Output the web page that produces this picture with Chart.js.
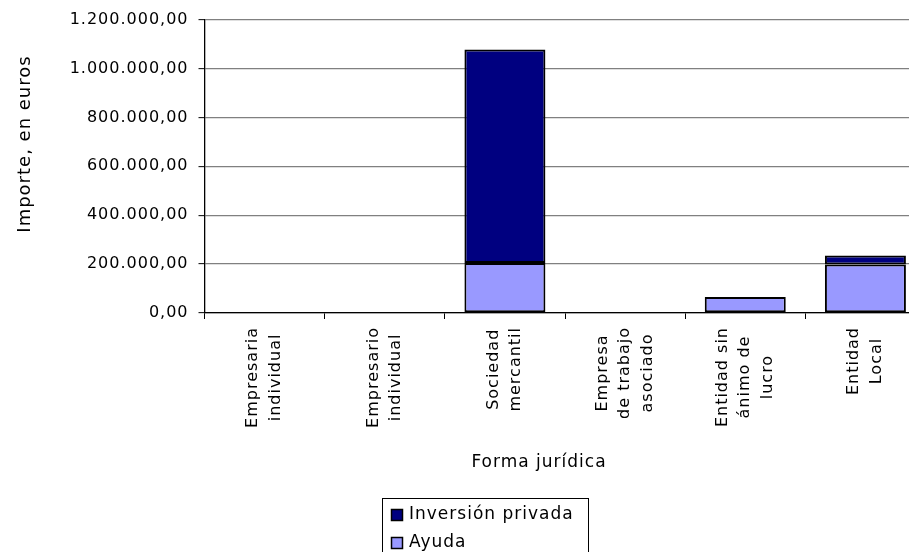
<!DOCTYPE html>
<html>
<head>
<meta charset="utf-8">
<script src="https://cdn.jsdelivr.net/npm/chart.js@4.4.1/dist/chart.umd.min.js"></script>
<style>
  html, body { margin: 0; padding: 0; background: #fff; overflow: hidden; }
  #wrap { width: 940px; height: 552px; }
  canvas { display: block; }
</style>
</head>
<body>
<div id="wrap"><canvas id="grafico" width="940" height="552"></canvas></div>
<script>
// --- Datos ---
const categorias = [
  ["Empresaria", "individual"],
  ["Empresario", "individual"],
  ["Sociedad", "mercantil"],
  ["Empresa", "de trabajo", "asociado"],
  ["Entidad sin", "ánimo de", "lucro"],
  ["Entidad", "Local"]
];
const ayuda = [0, 0, 205000, 0, 65000, 198000];
const inversionPrivada = [0, 0, 873000, 0, 0, 37000];

const yMin = 0;
const yMax = 1200000;
const yPaso = 200000;

const tituloX = "Forma jurídica";
const tituloY = "Importe, en euros";

const FUENTE = '"DejaVu Sans", Verdana, sans-serif';

// 1200000 -> "1.200.000,00"
function formatoEs(v) {
  const [ent, dec] = Number(v).toFixed(2).split(".");
  return ent.replace(/\B(?=(\d{3})+(?!\d))/g, ".") + "," + dec;
}

// --- Textos dibujados aparte (etiquetas centradas, títulos, leyenda) ---
const textos = {
  id: "textos",
  beforeUpdate(chart) { chart.ctx.letterSpacing = "1px"; },
  beforeDraw(chart) { chart.ctx.letterSpacing = "1px"; },
  afterDraw(chart) {
    const ctx = chart.ctx;
    const x = chart.scales.x;
    ctx.save();
    ctx.fillStyle = "#000";
    ctx.textAlign = "center";
    ctx.textBaseline = "middle";

    // categorías giradas, líneas centradas entre sí
    ctx.font = "16px " + FUENTE;
    chart.data.labels.forEach((lineas, i) => {
      const cx = x.getPixelForValue(i);
      const maxW = Math.max(...lineas.map(l => ctx.measureText(l).width));
      lineas.forEach((l, j) => {
        ctx.save();
        ctx.translate(cx + (j - (lineas.length - 1) / 2) * 22.5, x.top + 14 + maxW / 2);
        ctx.rotate(-Math.PI / 2);
        ctx.fillText(l, 0, 0);
        ctx.restore();
      });
    });

    // títulos de ejes
    ctx.font = "17px " + FUENTE;
    ctx.fillText(tituloX, 539, 463);
    ctx.save();
    ctx.font = "18px " + FUENTE;
    ctx.translate(25, 144);
    ctx.rotate(-Math.PI / 2);
    ctx.fillText(tituloY, 0, 0);
    ctx.restore();

    // leyenda (orden inverso, como en Excel)
    ctx.strokeStyle = "#000";
    ctx.lineWidth = 1;
    ctx.strokeRect(382.5, 498.5, 206, 70);
    ctx.font = "17px " + FUENTE;
    ctx.textAlign = "left";
    const ds = chart.data.datasets.slice().reverse();
    ds.forEach((d, k) => {
      const yc = 515 + k * 28;
      ctx.fillStyle = d.backgroundColor;
      ctx.fillRect(391, yc - 6, 12, 12);
      ctx.lineWidth = 1.5;
      ctx.strokeRect(391.5, yc - 5.5, 11, 11);
      ctx.fillStyle = "#000";
      ctx.fillText(d.label, 409, yc);
    });
    ctx.restore();
  }
};

// --- Chart.js ---
const ctx = document.getElementById("grafico").getContext("2d");

new Chart(ctx, {
  type: "bar",
  data: {
    labels: categorias,
    datasets: [
      {
        label: "Ayuda",
        data: ayuda,
        backgroundColor: "#9999FF",
        borderColor: "#000",
        borderWidth: 2,
        borderSkipped: false,
        barPercentage: 0.674,
        categoryPercentage: 1
      },
      {
        label: "Inversión privada",
        data: inversionPrivada,
        backgroundColor: "#000080",
        borderColor: "#000",
        borderWidth: 2,
        borderSkipped: false,
        barPercentage: 0.674,
        categoryPercentage: 1
      }
    ]
  },
  options: {
    responsive: false,
    animation: false,
    layout: { padding: { left: 0, right: 14.5, top: 19, bottom: 0 } },
    plugins: {
      legend: { display: false },
      tooltip: { enabled: false }
    },
    scales: {
      x: {
        stacked: true,
        ticks: { display: false },
        grid: {
          drawOnChartArea: false,
          drawTicks: true,
          tickLength: 6,
          tickColor: "#000",
          tickWidth: 1
        },
        border: { color: "#000", width: 1.3 },
        afterFit: s => { s.height = 239; }
      },
      y: {
        stacked: true,
        min: yMin,
        max: yMax,
        ticks: {
          stepSize: yPaso,
          padding: 10,
          color: "#000",
          font: { family: FUENTE, size: 16 },
          callback: v => formatoEs(v)
        },
        grid: {
          color: "#808080",
          lineWidth: 1.3,
          tickLength: 6,
          tickColor: "#000",
          tickWidth: 1
        },
        border: { color: "#000", width: 1.3 },
        afterFit: s => { s.width = 204.5; }
      }
    }
  },
  plugins: [textos]
});
</script>
</body>
</html>
